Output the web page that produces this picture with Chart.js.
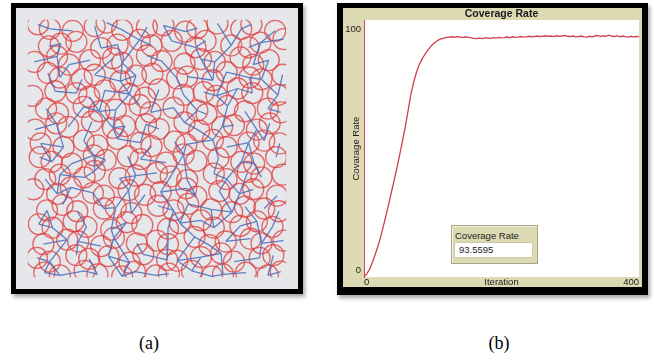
<!DOCTYPE html>
<html>
<head>
<meta charset="utf-8">
<script src="https://cdn.jsdelivr.net/npm/chart.js@4.4.1/dist/chart.umd.min.js"></script>
<style>
  html, body { margin: 0; padding: 0; background: #fff; width: 654px; height: 361px; overflow: hidden; }
  body { position: relative; font-family: "Liberation Sans", Arial, sans-serif; }
  .frame { position: absolute; background: #000; box-shadow: 2px 3px 4px rgba(0,0,0,0.35); }
  #frameA { left: 11px; top: 3px; width: 292px; height: 291px; }
  #frameB { left: 337px; top: 3px; width: 311px; height: 292px; }
  canvas { position: absolute; display: block; }
  #field { left: 16px; top: 8px; }
  #plot { left: 343px; top: 8px; }
  #monitor { position: absolute; left: 451px; top: 225px; width: 85px; height: 37px;
             background: #dcdab3; border: 1px solid #a8a688; box-shadow: inset 1px 1px 0 #f3f2e0; }
  #monitor .mlabel { position: absolute; left: 3px; top: 4px; font-size: 9.5px; color: #1e1e1e; white-space: nowrap; }
  #monitor .mvalue { position: absolute; left: 2px; top: 16px; width: 79px; height: 16px; box-sizing: border-box;
                     background: #fff; border: 1px solid #c9c7a6; padding-left: 4px;
                     font-size: 9.5px; line-height: 14px; color: #1e1e1e; }
  .caption { position: absolute; top: 332px; width: 40px; text-align: center;
             font-family: "Liberation Serif", "Times New Roman", serif; font-size: 18px; line-height: 22px; color: #000; }
</style>
</head>
<body>
<div class="frame" id="frameA"></div>
<div class="frame" id="frameB"></div>
<canvas id="field" width="282" height="281"></canvas>
<canvas id="plot" width="299" height="279"></canvas>
<div id="monitor"><div class="mlabel">Coverage Rate</div><div class="mvalue" id="monitorValue"></div></div>
<div class="caption" style="left:129px">(a)</div>
<div class="caption" style="left:479px">(b)</div>

<script>
// ---- (a) sensor field: circle centres, 16 rows x 14 columns ----
const COLS = 14;
const sensorX = [
  11,24,49,73,86,103,130,148,172,185,207,233,244,270,
  23,36,53,80,98,122,135,157,183,194,222,241,254,279,
  7,32,45,68,93,103,130,146,171,189,204,232,246,263,
  22,35,59,73,101,118,136,163,174,202,217,242,255,278,
  5,30,53,67,84,111,128,143,170,192,206,229,245,273,
  20,33,61,78,96,122,134,159,185,195,218,237,262,276,
  8,31,44,70,93,106,129,143,171,187,212,225,250,264,
  14,39,61,76,98,123,135,160,173,202,217,241,258,275,
  13,26,48,72,85,109,123,151,170,184,208,233,247,271,
  19,35,62,73,100,118,141,156,174,203,217,240,255,278,
  6,32,47,71,83,110,128,145,173,184,209,231,246,272,
  21,38,54,83,96,113,142,159,175,200,223,237,258,274,
  12,27,50,64,91,108,125,153,166,189,203,232,250,267,
  17,43,55,80,94,119,141,153,182,198,216,243,255,279,
  10,24,53,67,88,111,126,152,163,189,211,225,253,268,
  18,35,62,76,103,117,140,154,179,201,213,238,262,276
];
const sensorY = [
  5,10,12,7,3,11,8,6,13,9,4,10,5,12,
  29,26,24,31,27,22,28,23,30,23,28,30,25,21,
  46,40,49,44,42,47,39,45,48,43,46,41,49,44,
  58,63,65,60,67,61,59,64,62,66,57,63,65,60,
  83,78,80,84,77,81,85,76,82,79,83,75,80,82,
  97,102,95,100,98,93,101,96,99,103,94,100,97,101,
  120,113,117,111,118,116,114,119,112,121,117,115,120,113,
  135,139,132,137,130,134,138,133,136,131,139,134,132,135,
  150,155,157,148,153,149,152,156,147,154,151,155,157,150,
  174,169,172,165,173,170,167,171,175,168,174,166,172,169,
  185,190,183,189,192,186,191,188,184,193,187,190,185,192,
  208,202,209,206,205,211,203,208,201,207,210,204,206,209,
  223,227,220,226,229,221,224,228,222,219,227,225,220,226,
  245,240,242,247,238,244,241,245,237,246,242,239,244,241,
  260,264,257,261,258,265,256,262,263,259,255,264,260,257,
  276,279,274,278,280,275,279,277,274,280,278,276,279,275
];
// link codes per sensor: 1 = right neighbour, 2 = lower-left, 4 = lower-right
const linkCodes = [
  "31041425104302",
  "12014301502130",
  "14302614052012",
  "40215204103542",
  "21043602415302",
  "40352014302410",
  "14025230143062",
  "52401024341602",
  "10352410602340",
  "43105302416200",
  "21340625104302",
  "60412016352402",
  "34025204510342",
  "12306402341030",
  "16045210534102",
  "11101110111010"
];

// ---- (b) coverage rate per iteration ----
const ITER_STEP = 4;
const coverage = [
  0, 1.2, 3.0, 5.6, 8.6, 11.8, 15.4, 19.6, 24.0, 28.5,
  33.2, 37.8, 42.6, 47.6, 53.0, 58.4, 64.6, 70.8, 75.6, 79.4,
  82.4, 84.6, 86.4, 88.0, 89.4, 90.6, 91.5, 92.2, 92.7, 93.0,
  93.3, 93.4, 93.5, 93.3, 93.6, 93.4, 93.2, 93.5, 93.3, 93.1,
  92.9, 92.8, 93.0, 92.8, 93.1, 93.0, 92.9, 93.2, 93.0, 93.3,
  93.1, 93.2, 93.4, 93.2, 93.5, 93.3, 93.4, 93.6, 93.4, 93.5,
  93.7, 93.5, 93.6, 93.8, 93.6, 93.7, 93.9, 93.7, 93.8, 93.6,
  93.9, 93.7, 93.8, 94.0, 93.7, 93.6, 93.8, 93.5, 93.6, 93.8,
  93.5, 93.4, 93.7, 93.5, 93.8, 94.0, 93.6, 93.9, 93.7, 94.1,
  93.8, 93.6, 93.9, 93.5, 93.8, 93.6, 93.4, 93.7, 93.5, 93.6,
  93.5595
];
const xTicks = [0, 400];
const yTicks = [0, 100];

Chart.defaults.font.family = '"Liberation Sans", Arial, sans-serif';

// fills the canvas and the plotting area behind everything
const panelFill = {
  id: 'panelFill',
  beforeDraw(chart, args, opts) {
    const { ctx, chartArea: a } = chart;
    ctx.save();
    if (opts.outer) { ctx.fillStyle = opts.outer; ctx.fillRect(0, 0, chart.width, chart.height); }
    if (opts.inner) { ctx.fillStyle = opts.inner; ctx.fillRect(a.left, a.top, a.right - a.left, a.bottom - a.top); }
    ctx.restore();
  }
};

// sensor points and link segments
const sensors = sensorX.map((x, i) => ({ x, y: sensorY[i] }));
const links = [];
const ROWS = linkCodes.length;
function neighbour(r, c, bit) {
  if (bit === 1) return c + 1 < COLS ? r * COLS + c + 1 : -1;
  if (r + 1 >= ROWS) return -1;
  const even = r % 2 === 0;
  const nc = bit === 2 ? (even ? c - 1 : c) : (even ? c : c + 1);
  return nc >= 0 && nc < COLS ? (r + 1) * COLS + nc : -1;
}
linkCodes.forEach((row, r) => {
  for (let c = 0; c < COLS; c++) {
    const code = +row[c];
    [1, 2, 4].forEach(bit => {
      if (!(code & bit)) return;
      const j = neighbour(r, c, bit);
      if (j < 0) return;
      links.push(sensors[r * COLS + c], sensors[j], { x: null, y: null });
    });
  }
});

new Chart(document.getElementById('field'), {
  type: 'scatter',
  data: {
    datasets: [
      { label: 'links', data: links, showLine: true, spanGaps: false,
        borderColor: 'rgba(70,108,184,0.85)', borderWidth: 1.3, pointRadius: 0, clip: 0, order: 0 },
      { label: 'sensors', data: sensors, showLine: false,
        pointRadius: 10.5, pointBorderWidth: 1.3, pointBorderColor: 'rgba(222,62,62,0.75)',
        pointBackgroundColor: 'rgba(0,0,0,0)', clip: 0, order: 1 }
    ]
  },
  options: {
    responsive: false, animation: false, events: [],
    layout: { padding: 0 },
    plugins: { legend: { display: false }, tooltip: { enabled: false },
               panelFill: { outer: '#e6e7eb', inner: '#e6e7eb' } },
    scales: {
      x: { type: 'linear', min: 0, max: 282, display: false },
      y: { type: 'linear', min: 0, max: 281, reverse: true, display: false }
    }
  },
  plugins: [panelFill]
});

new Chart(document.getElementById('plot'), {
  type: 'line',
  data: {
    datasets: [{
      label: 'Coverage Rate',
      data: coverage.map((v, i) => ({ x: i * ITER_STEP, y: v })),
      borderColor: '#cf3f4f', borderWidth: 1.3, pointRadius: 0, tension: 0, clip: 0
    }]
  },
  options: {
    responsive: false, animation: false, events: [],
    layout: { padding: { left: 0, right: 3, top: 0, bottom: 0 } },
    plugins: {
      legend: { display: false }, tooltip: { enabled: false },
      title: { display: true, text: 'Coverage Rate', fullSize: false, color: '#1a1a1a',
               font: { size: 10.5, weight: 'bold', lineHeight: 1.15 }, padding: { top: 0, bottom: 0 } },
      panelFill: { outer: '#dcdab3', inner: '#ffffff' }
    },
    scales: {
      x: {
        type: 'linear', min: 0, max: 400,
        grid: { display: false, drawTicks: false }, border: { display: false },
        afterBuildTicks: s => { s.ticks = xTicks.map(v => ({ value: v })); },
        afterFit: s => { s.paddingLeft = 0; s.paddingRight = 0; },
        ticks: { align: 'inner', padding: 0, color: '#222', autoSkip: false, maxRotation: 0,
                 font: { size: 9.5, lineHeight: 1.05 } },
        title: { display: true, text: 'Iteration', color: '#222',
                 font: { size: 9.5, lineHeight: 1.05 }, padding: { top: -10, bottom: 0 } }
      },
      y: {
        type: 'linear', min: 0, max: 100, position: 'left',
        grid: { display: false, drawTicks: false },
        border: { display: true, color: '#d2475a', width: 1 },
        afterBuildTicks: s => { s.ticks = yTicks.map(v => ({ value: v })); },
        afterFit: s => { s.width = 21; s.paddingTop = 0; s.paddingBottom = 0; },
        ticks: {
          padding: 3, color: '#222', autoSkip: false,
          font: c => ({ size: 9.5, lineHeight: (c.tick && c.tick.value === 100) ? '18px' : '13px' }),
          callback: v => v === 100 ? ['', '100'] : [String(v), '']
        },
        title: { display: true, text: 'Covarage Rate', color: '#222',
                 font: { size: 9.5, lineHeight: 1.2 }, padding: { top: 8, bottom: 0 } }
      }
    }
  },
  plugins: [panelFill]
});

document.getElementById('monitorValue').textContent = String(coverage[coverage.length - 1]);
</script>
</body>
</html>
